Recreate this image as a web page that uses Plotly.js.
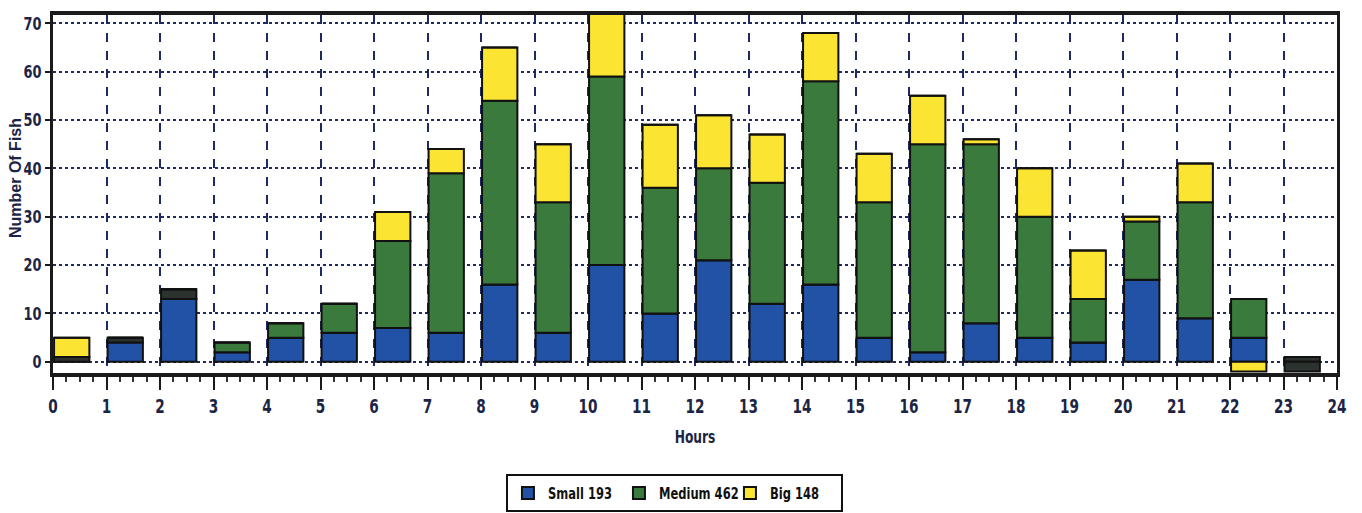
<!DOCTYPE html>
<html>
<head>
<meta charset="utf-8">
<script src="https://cdn.plot.ly/plotly-3.0.1.min.js"></script>
<style>
html,body{margin:0;padding:0;background:#fff;}
#chart{width:1362px;height:513px;}
</style>
</head>
<body>
<div id="chart"></div>
<script>
const hours = [0,1,2,3,4,5,6,7,8,9,10,11,12,13,14,15,16,17,18,19,20,21,22,23];
const smallVals  = [0,4,13,2,5,6,7,6,16,6,20,10,21,12,16,5,2,8,5,4,17,9,5,0];
const otherPos   = [1,1,2,0,0,0,0,0,0,0,0,0,0,0,0,0,0,0,0,0,0,0,0,1];
const mediumVals = [0,0,0,2,3,6,18,33,38,27,39,26,19,25,42,28,43,37,25,9,12,24,8,0];
const bigVals    = [4,0,0,0,0,0,6,5,11,12,18,13,11,10,10,10,10,1,10,10,1,8,-2,0];
const otherNeg   = [0,0,0,0,0,0,0,0,0,0,0,0,0,0,0,0,0,0,0,0,0,0,0,-2];
const seriesNames = ['Small 193', 'Medium 462', 'Big 148'];
const xTickVals = [0,1,2,3,4,5,6,7,8,9,10,11,12,13,14,15,16,17,18,19,20,21,22,23,24];

const navy = '#1b2444';
const font = '"DejaVu Sans", "Liberation Sans", sans-serif';
const barLine = {color: '#111', width: 2};
function bar(name, y, color, showlegend) {
  return {type: 'bar', name: name, x: hours, y: y, offset: 0.02, width: 0.66,
    marker: {color: color, line: barLine}, showlegend: showlegend, hoverinfo: 'y'};
}
const traces = [
  bar(seriesNames[0], smallVals, '#2152a6', true),
  bar('Other', otherPos, '#2c332e', false),
  bar(seriesNames[1], mediumVals, '#3b7a3d', true),
  bar(seriesNames[2], bigVals, '#fbe432', true),
  bar('Other neg', otherNeg, '#2c332e', false)
];

const layout = {
  width: 1362, height: 513,
  margin: {l: 53, r: 25, t: 15, b: 140},
  paper_bgcolor: '#ffffff', plot_bgcolor: '#ffffff',
  barmode: 'relative',
  font: {family: font, color: navy},
  xaxis: {
    range: [0, 24], tickvals: xTickVals, ticktext: xTickVals.map(String),
    showgrid: true, gridcolor: '#1e2a60', gridwidth: 2, griddash: 'dash',
    zeroline: false, showline: true, linecolor: '#1a1a1a', linewidth: 4, mirror: true,
    ticks: 'outside', ticklen: 13, tickwidth: 2, tickcolor: '#1a1a1a',
    minor: {dtick: 0.25, ticks: 'outside', ticklen: 5, tickwidth: 2, tickcolor: '#333', showgrid: false},
    tickfont: {family: font, size: 19, color: navy, weight: 'bold'},
    title: {text: 'Hours', font: {family: font, size: 17, color: navy, weight: 'bold'}, standoff: 16},
    automargin: false
  },
  yaxis: {
    range: [-2.3, 71.7], tickvals: [0,10,20,30,40,50,60,70],
    showgrid: true, gridcolor: '#1e2a60', gridwidth: 2, griddash: 'dot',
    zeroline: false, showline: true, linecolor: '#1a1a1a', linewidth: 3, mirror: true,
    ticks: 'outside', ticklen: 5, tickwidth: 2, tickcolor: '#1a1a1a',
    tickfont: {family: font, size: 18, color: navy, weight: 'bold'},
    title: {text: 'Number Of Fish', font: {family: 'Liberation Sans, Arial, sans-serif', size: 16, color: navy, weight: 'bold'}, standoff: 0},
    automargin: false
  },
  legend: {
    orientation: 'h', x: 0.484, xanchor: 'center',
    yref: 'container', y: 0.076, yanchor: 'top',
    bordercolor: '#111', borderwidth: 2, bgcolor: '#ffffff',
    font: {family: font, size: 16, color: '#111', weight: 'bold'},
    itemwidth: 30, traceorder: 'normal',
    entrywidth: 66, entrywidthmode: 'pixels'
  }
};
Plotly.newPlot('chart', traces, layout, {displayModeBar: false, staticPlot: true}).then(function () {
  const squeeze = function (sel, k) {
    document.querySelectorAll(sel).forEach(function (t) {
      const w = t.getComputedTextLength();
      if (w > 0) { t.setAttribute('textLength', (w * k).toFixed(1)); t.setAttribute('lengthAdjust', 'spacingAndGlyphs'); }
    });
  };
  squeeze('#chart .xtick text', 0.72);
  squeeze('#chart .ytick text', 0.72);
  squeeze('#chart .g-xtitle text', 0.72);
  squeeze('#chart .legendtext', 0.72);
  const yt = document.querySelector('#chart .g-ytitle');
  if (yt) { yt.setAttribute('transform', 'translate(9,-16)'); }
});
</script>
</body>
</html>
